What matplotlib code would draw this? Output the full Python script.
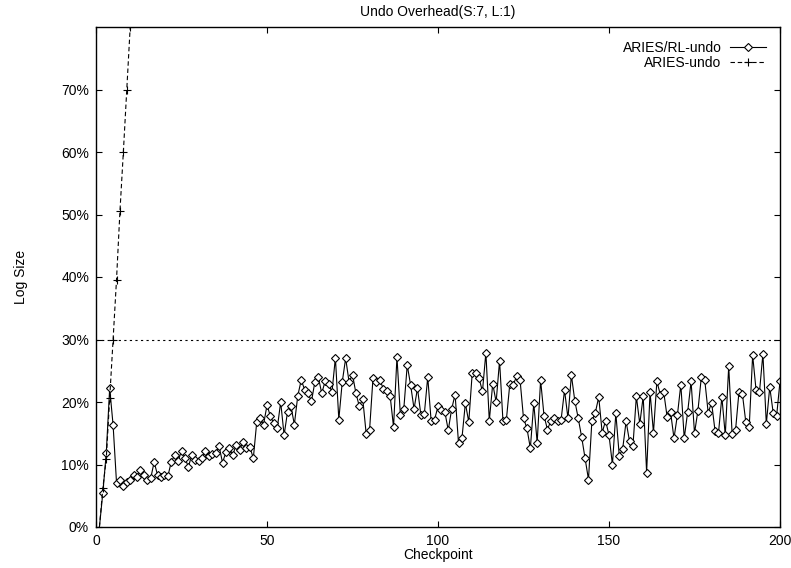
import matplotlib
matplotlib.use('Agg')
import matplotlib.pyplot as plt
import numpy as np

plt.rcParams['font.family'] = ['Liberation Sans', 'DejaVu Sans']

# checkpoint numbers
checkpoints = np.arange(1, 201)

# ARIES/RL-undo log size (%)
rl_undo = [
    0, 5.5, 11.8, 22.2, 16.3, 7.1, 7.6, 6.5, 7.2, 7.5,
    8.3, 8.0, 9.1, 8.3, 7.6, 7.8, 10.4, 8.3, 8.0, 8.3,
    8.1, 10.4, 11.5, 10.5, 12.2, 11.1, 9.6, 11.5, 10.8, 10.6,
    11.0, 12.2, 11.3, 11.7, 11.8, 12.9, 10.3, 12.0, 12.7, 11.5,
    13.2, 12.4, 13.6, 12.6, 12.8, 11.0, 16.8, 17.5, 16.4, 19.5,
    17.7, 16.6, 15.8, 20.0, 14.7, 18.4, 19.3, 16.4, 21.0, 23.5,
    22.0, 21.4, 20.1, 23.2, 24.0, 21.4, 23.3, 22.9, 21.6, 27.1,
    17.2, 23.2, 27.0, 23.2, 24.4, 21.4, 19.3, 20.5, 14.9, 15.6,
    23.9, 23.2, 23.6, 22.1, 21.8, 21.0, 16.0, 27.2, 17.9, 18.9,
    25.9, 22.7, 18.9, 22.2, 17.9, 18.1, 24.0, 16.9, 17.2, 19.3,
    18.7, 18.4, 15.5, 18.9, 21.2, 13.4, 14.2, 19.8, 16.8, 24.6,
    24.6, 23.8, 21.7, 27.9, 17.0, 22.9, 20.0, 26.6, 16.9, 17.2,
    22.9, 22.8, 24.1, 23.5, 17.4, 15.8, 12.6, 19.8, 13.5, 23.5,
    17.8, 15.6, 17.0, 17.5, 17.0, 17.2, 21.9, 17.4, 24.3, 20.2,
    17.4, 14.4, 11.0, 7.6, 17.0, 18.3, 20.8, 15.1, 17.0, 14.7,
    10.0, 18.2, 11.4, 12.5, 16.9, 13.7, 13.0, 20.9, 16.5, 20.9,
    8.7, 21.6, 15.1, 23.3, 21.2, 21.6, 17.6, 18.4, 14.2, 17.9,
    22.8, 14.2, 18.4, 23.3, 15.0, 18.6, 24.0, 23.5, 18.3, 19.9,
    15.4, 15.0, 20.8, 14.7, 25.7, 14.9, 15.5, 21.6, 21.3, 16.8,
    16.0, 27.5, 21.9, 21.6, 27.7, 16.5, 22.4, 18.3, 17.7, 23.3,
]

# ARIES-undo grows past the top of the plot after a few checkpoints
aries_x = [1, 2, 3, 4, 5, 6, 7, 8, 9, 10, 11]
aries_undo = [0, 6.2, 10.9, 20.6, 30.0, 39.6, 50.5, 60.0, 70.0, 80.0, 90.0]

threshold = 30
yticks = [0, 10, 20, 30, 40, 50, 60, 70]
xticks = [0, 50, 100, 150, 200]

fig = plt.figure(figsize=(7.91, 5.68), dpi=100)
ax = fig.add_axes([96/791, 41/568, 684/791, 500/568])

ax.plot(checkpoints, rl_undo, color='black', lw=0.8, marker='D', ms=4.2,
        mfc='white', mec='black', mew=0.8, markevery=list(range(1, len(rl_undo))),
        label='ARIES/RL-undo')
ax.plot(aries_x, aries_undo, color='black', lw=0.8, ls=(0, (4, 2.5)),
        marker='+', ms=6, mew=0.8, markevery=list(range(1, len(aries_x))),
        label='ARIES-undo')
ax.axhline(threshold, color='black', lw=0.8, ls=(0, (2, 3)))

ax.set_xlim(0, 200)
ax.set_ylim(0, 80)
ax.set_xticks(xticks)
ax.set_yticks(yticks)
ax.set_yticklabels(['{}%'.format(v) for v in yticks])
ax.tick_params(direction='in', top=True, right=True, length=4, width=0.8,
               labelsize=10, pad=5)
for s in ax.spines.values():
    s.set_linewidth(1.0)

ax.set_title('Undo Overhead(S:7, L:1)', fontsize=10, pad=8)
ax.set_xlabel('Checkpoint', fontsize=10, labelpad=0)
ax.set_ylabel('Log Size', fontsize=10, labelpad=24)

ax.legend(loc='upper right', frameon=False, markerfirst=False, fontsize=10,
          handlelength=2.6, handletextpad=0.6, labelspacing=0.05,
          borderaxespad=0.6)

plt.savefig('out.png', dpi=100)
